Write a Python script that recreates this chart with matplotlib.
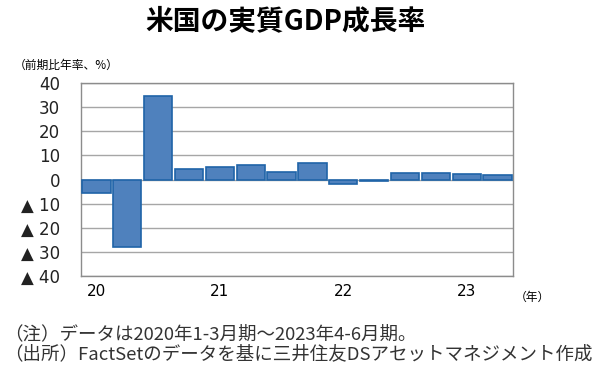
import numpy as np
import matplotlib as mpl
import matplotlib.pyplot as plt

mpl.rc('font', family=['Noto Sans CJK JP', 'DejaVu Sans'])

# 2020Q1 .. 2023Q2, quarter-on-quarter annualised (%)
quarters = ['20Q1', '20Q2', '20Q3', '20Q4', '21Q1', '21Q2', '21Q3', '21Q4',
            '22Q1', '22Q2', '22Q3', '22Q4', '23Q1', '23Q2']
growth = [-5.5, -28.0, 34.8, 4.2, 5.2, 6.2, 3.3, 7.0,
          -2.0, -0.6, 2.7, 2.6, 2.2, 2.0]
year_labels = ['20', '21', '22', '23']
y_ticks = [40, 30, 20, 10, 0, -10, -20, -30, -40]
y_tick_labels = ['40', '30', '20', '10', '0', '▲ 10', '▲ 20', '▲ 30', '▲ 40']

fig = plt.figure(figsize=(6, 3.74), dpi=100)
ax = fig.add_axes([0.135, 0.262, 0.72, 0.516])

x = np.arange(len(growth))
ax.bar(x, growth, width=0.92, color='#4f81bd', edgecolor='#1f64a8',
       linewidth=1.2, zorder=3)

ax.set_xlim(-0.5, len(growth) - 0.5)
ax.set_ylim(-40, 40)
ax.set_yticks(y_ticks)
ax.set_yticklabels(y_tick_labels, family='DejaVu Sans', fontsize=12,
                   color='#222222')
ax.tick_params(axis='y', length=0, pad=15)
ax.set_xticks([])
ax.grid(axis='y', color='#a6a6a6', linewidth=1.0, zorder=0)
for s in ax.spines.values():
    s.set_color('#8c8c8c')
    s.set_linewidth(1.0)

# year labels under first quarter of each year
for i, lab in enumerate(year_labels):
    ax.text(i * 4, -43.5, lab, ha='center', va='top', fontsize=11,
            family='DejaVu Sans', transform=ax.transData)
fig.text(532 / 600, 1 - 297 / 374, '（年）', ha='center', va='center', fontsize=8.5)

fig.text(285 / 600, 1 - 21 / 374, '米国の実質GDP成長率', ha='center', va='center',
         fontsize=20, fontweight='bold')
fig.text(14 / 600, 1 - 65 / 374, '（前期比年率、%）', ha='left', va='center', fontsize=8.5)
fig.text(4 / 600, 1 - 334 / 374, '（注）データは2020年1-3月期～2023年4-6月期。',
         ha='left', va='center', fontsize=13.3, color='#333333')
fig.text(4 / 600, 1 - 354 / 374, '（出所）FactSetのデータを基に三井住友DSアセットマネジメント作成',
         ha='left', va='center', fontsize=13.3, color='#333333')

fig.savefig('out.png', dpi=100)
